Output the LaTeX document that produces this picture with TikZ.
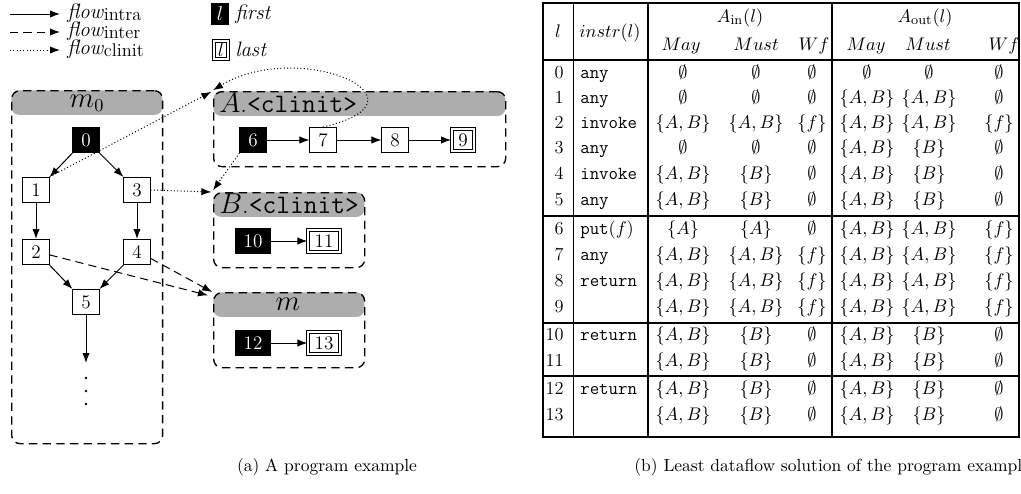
\documentclass[tikz,border=0pt]{standalone}
\usetikzlibrary{arrows.meta}
\newcommand\tAB{$\{A, B\}$}
\newcommand\tBB{$\{B\}$}
\newcommand\tAA{$\{A\}$}
\newcommand\tff{$\{f\}$}
\newcommand\tEE{$\emptyset$}
\newcommand\tput{put$(f)$}
\newcommand\tNN{}
\begin{document}
\begin{tikzpicture}[x=0.6pt,y=-0.6pt,
  nd/.style={draw, fill=white, line width=0.6pt, minimum width=15pt, minimum height=15pt,
    inner xsep=5pt, inner ysep=2pt, font=\fontsize{11.5}{13}\selectfont},
  fst/.style={nd, fill=black, text=white},
  lst/.style={nd, double, double distance=1.1pt, minimum width=13pt, minimum height=13pt, inner xsep=4pt},
  grp/.style={draw, line width=0.8pt, dash pattern=on 5pt off 3.2pt, rounded corners=5pt,
    inner sep=0pt, anchor=north west},
  hdr/.style={fill=black!32, rounded corners=4.5pt, inner sep=0pt, anchor=north west,
    minimum height=14.7pt},
  hlab/.style={inner sep=0pt, font=\fontsize{16}{18}\selectfont},
  intra/.style={-{Latex[length=6pt,width=4.4pt]}, line width=0.6pt},
  inter/.style={intra, dash pattern=on 5pt off 3pt},
  clin/.style={intra, dash pattern=on 0.6pt off 1.4pt},
  leg/.style={inner sep=0pt, anchor=west, font=\fontsize{12.5}{13}\selectfont},
  lbox/.style={draw, line width=0.6pt, minimum width=10.5pt, minimum height=13pt, inner sep=1pt,
    font=\fontsize{12.5}{14}\selectfont},
  pdot/.style={circle, fill=black, inner sep=0pt, minimum size=1.7pt},
  tcell/.style={inner sep=0pt, text height=8pt, text depth=3pt, font=\fontsize{11}{13}\selectfont},
  thk/.style={line width=1.5pt},
  mid/.style={line width=1.2pt},
  thn/.style={line width=0.6pt},
  captext/.style={inner sep=0pt, font=\fontsize{10.5}{12}\selectfont}
]
\useasboundingbox (0,0) rectangle (1021,493);
\clip (0,0) rectangle (1021,493);

% ---------- legend ----------
\coordinate (la1) at (10,14);  \coordinate (la2) at (60,14);
\coordinate (lb1) at (10,32);  \coordinate (lb2) at (60,32);
\coordinate (lc1) at (10,50);  \coordinate (lc2) at (60,50);
\draw[intra] (la1) -- (la2);
\draw[inter] (lb1) -- (lb2);
\draw[clin] (lc1) -- (lc2);
\node[leg] (ta) at (67,13) {\textit{flow}\raisebox{-0.25ex}{\fontsize{11}{12}\selectfont intra}};
\node[leg] (tb) at (67,31) {\textit{flow}\raisebox{-0.25ex}{\fontsize{11}{12}\selectfont inter}};
\node[leg] (tcl) at (67,49) {\textit{flow}\raisebox{-0.25ex}{\fontsize{11}{12}\selectfont clinit}};
\node[lbox, fill=black, text=white] (lf) at (220,14) {$l$};
\node[lbox, double, double distance=1.1pt, minimum width=8.5pt, minimum height=11pt] (ll) at (221,50) {$l$};
\node[leg] (tf) at (235,14) {\textit{first}};
\node[leg] (tl) at (235,49) {\textit{last}};

% ---------- groups ----------
\node[hdr, minimum width=90.6pt] (hm0) at (11,90) {};
\node[grp, minimum width=90.6pt, minimum height=211.8pt] (gm0) at (11,90) {};
\node[hlab] (lm0) at (87,103) {$m_0$};

\node[hdr, minimum width=175.2pt] (hA) at (213,91) {};
\node[grp, minimum width=175.2pt, minimum height=45pt] (gA) at (213,91) {};
\node[hlab, anchor=west] (lA) at (219,103) {$A$.\texttt{<clinit>}};

\node[hdr, minimum width=90.6pt] (hB) at (213,192) {};
\node[grp, minimum width=90.6pt, minimum height=45pt] (gB) at (213,192) {};
\node[hlab, anchor=west] (lB) at (219,204) {$B$.\texttt{<clinit>}};

\node[hdr, minimum width=90.6pt] (hm) at (213,292) {};
\node[grp, minimum width=90.6pt, minimum height=45pt] (gm) at (213,292) {};
\node[hlab] (lm) at (288,304) {$m$};

% ---------- nodes ----------
\node[fst] (n0) at (86,140) {0};
\node[nd] (n1) at (36,190) {1};
\node[nd] (n3) at (137,190) {3};
\node[nd] (n2) at (36,252) {2};
\node[nd] (n4) at (137,252) {4};
\node[nd] (n5) at (86,302) {5};
\coordinate (n5e) at (86,363);
\node[pdot] (d1) at (86,378) {};
\node[pdot] (d2) at (86,391) {};
\node[pdot] (d3) at (86,404) {};

\node[fst] (n6) at (253,140) {6};
\node[nd] (n7) at (323,140) {7};
\node[nd] (n8) at (395,140) {8};
\node[lst] (n9) at (463,140) {9};

\node[fst] (n10) at (253,241) {10};
\node[lst] (n11) at (324,241) {11};

\node[fst] (n12) at (253,343) {12};
\node[lst] (n13) at (324,343) {13};

% ---------- edges ----------
\draw[intra] (n0.south west) -- (n1.north east);
\draw[intra] (n0.south east) -- (n3.north west);
\draw[intra] (n1) -- (n2);
\draw[intra] (n3) -- (n4);
\draw[intra] (n2.south east) -- (n5.north west);
\draw[intra] (n4.south west) -- (n5.north east);
\draw[intra] (n5) -- (n5e);
\draw[intra] (n6) -- (n7);
\draw[intra] (n7) -- (n8);
\draw[intra] (n8) -- (n9);
\draw[intra] (n10) -- (n11);
\draw[intra] (n12) -- (n13);

\draw[clin] (n1.north east) -- ([xshift=-1pt,yshift=-0.5pt]gA.north west);
\draw[clin] (n7.north) .. controls (440,100) and (300,38) .. ([yshift=0.5pt]gA.north west);
\draw[clin] (n3.east) -- ([xshift=-1pt]gB.north west);
\draw[clin] (n6.south west) -- ([yshift=1pt]gB.north west);
\draw[inter] (n2.-12) -- ([xshift=-3pt,yshift=-2pt]gm.north west);
\draw[inter] (n4.-25) -- ([xshift=-0.5pt]gm.north west);

% ---------- table ----------
\node[tcell] (hl) at (558,33) {$l$};
\node[tcell] (hi) at (610,33) {$instr(l)$};
\node[tcell] (hAin) at (740,18) {$A_{\mathrm{in}}(l)$};
\node[tcell] (hAout) at (925,18) {$A_{\mathrm{out}}(l)$};
\node[tcell] (s1) at (681,46) {$May$};
\node[tcell] (s2) at (756,46) {$Must$};
\node[tcell] (s3) at (814,46) {$Wf$};
\node[tcell] (s4) at (866,46) {$May$};
\node[tcell] (s5) at (928,46) {$Must$};
\node[tcell] (s6) at (1004,46) {$Wf$};

\foreach \r/\yy/\ins/\ca/\cb/\cc/\cd/\ce/\cf in {
  0/74/any/\tEE/\tEE/\tEE/\tEE/\tEE/\tEE,
  1/99/any/\tEE/\tEE/\tEE/\tAB/\tAB/\tEE,
  2/124/invoke/\tAB/\tAB/\tff/\tAB/\tAB/\tff,
  3/149/any/\tEE/\tEE/\tEE/\tAB/\tBB/\tEE,
  4/175/invoke/\tAB/\tBB/\tEE/\tAB/\tBB/\tEE,
  5/201/any/\tAB/\tBB/\tEE/\tAB/\tBB/\tEE,
  6/230/\tput/\tAA/\tAA/\tEE/\tAB/\tAB/\tff,
  7/256/any/\tAB/\tAB/\tff/\tAB/\tAB/\tff,
  8/282/return/\tAB/\tAB/\tff/\tAB/\tAB/\tff,
  9/308/\tNN/\tAB/\tAB/\tff/\tAB/\tAB/\tff,
  10/336/return/\tAB/\tBB/\tEE/\tAB/\tBB/\tEE,
  11/362/\tNN/\tAB/\tBB/\tEE/\tAB/\tBB/\tEE,
  12/390/return/\tAB/\tBB/\tEE/\tAB/\tBB/\tEE,
  13/416/\tNN/\tAB/\tBB/\tEE/\tAB/\tBB/\tEE}{
  \node[tcell, anchor=east] (r\r l) at (564,\yy) {\r};
  \node[tcell, anchor=west] (r\r i) at (580,\yy) {\texttt{\ins}};
  \node[tcell] (r\r a) at (683,\yy) {\ca};
  \node[tcell] (r\r b) at (756,\yy) {\cb};
  \node[tcell] (r\r c) at (812,\yy) {\cc};
  \node[tcell] (r\r d) at (867,\yy) {\cd};
  \node[tcell] (r\r e) at (929,\yy) {\ce};
  \node[tcell] (r\r f) at (999,\yy) {\cf};
}

\draw[thk] (543,3) rectangle (1019,437);
\draw[thn] (573,3) -- (573,437);
\draw[mid] (648,3) -- (648,437);
\draw[thk] (832,3) -- (832,437);
\draw[thk] (543,60) -- (1019,60);
\draw[thk] (543,216) -- (1019,216);
\draw[thk] (543,323) -- (1019,323);
\draw[thk] (543,376) -- (1019,376);

% ---------- captions ----------
\node[captext] (capa) at (327,467) {(a) A program example};
\node[captext, anchor=west] (capb) at (634,467) {(b) Least dataflow solution of the program example};
\end{tikzpicture}
\end{document}
